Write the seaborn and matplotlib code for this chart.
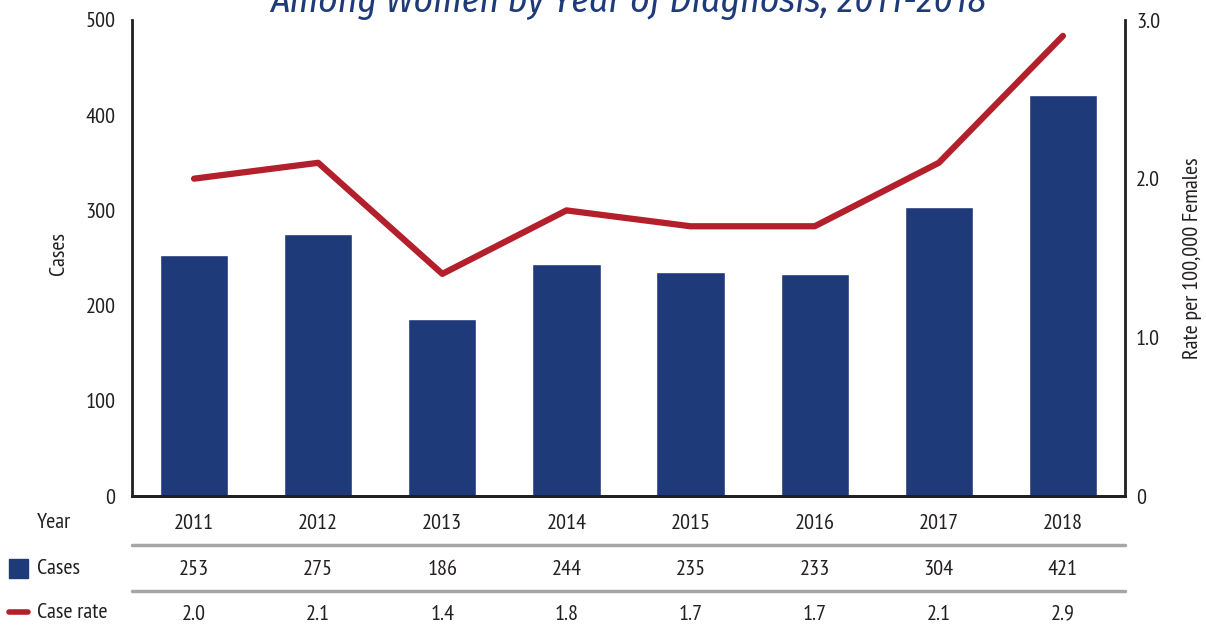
import matplotlib
matplotlib.use('Agg')
import matplotlib.pyplot as plt
import pandas as pd
import seaborn as sns
from matplotlib import font_manager
from matplotlib.patches import Rectangle
from matplotlib.lines import Line2D

# Data
years = ['2011', '2012', '2013', '2014', '2015', '2016', '2017', '2018']
cases = [253, 275, 186, 244, 235, 233, 304, 421]
case_rate = [2.0, 2.1, 1.4, 1.8, 1.7, 1.7, 2.1, 2.9]
case_rate_labels = ['2.0', '2.1', '1.4', '1.8', '1.7', '1.7', '2.1', '2.9']
left_ticks = [0, 100, 200, 300, 400, 500]
right_ticks = [0, 1.0, 2.0, 3.0]
right_tick_labels = ['0', '1.0', '2.0', '3.0']

df = pd.DataFrame({'year': years, 'cases': cases, 'rate': case_rate})

BLUE = '#1f3a78'
RED = '#b31f2a'
GRAY = '#a6a6a6'
TXT = '#231f20'

sns.set_style('white')

# pick a condensed humanist face (original looks like Myriad Condensed)
fonts = font_manager.fontManager.ttflist
names = {f.name for f in fonts}
italic_names = {f.name for f in fonts if f.style == 'italic'}
prefs = ['PT Sans Narrow', 'Fira Sans Condensed', 'Open Sans Condensed',
         'Roboto Condensed', 'Asap Condensed', 'Archivo Narrow', 'Barlow Condensed']
body = next((n for n in prefs if n in names), 'DejaVu Sans')
title_font = next((n for n in prefs if n in italic_names), body)
plt.rcParams['font.family'] = [body, 'DejaVu Sans']

FS = 16

fig = plt.figure(figsize=(12.06, 6.25), dpi=100)
ax = fig.add_axes([132 / 1206, 1 - 496 / 625, (1125 - 132) / 1206, (496 - 20) / 625])

sns.barplot(data=df, x='year', y='cases', color=BLUE, width=0.55,
            saturation=1, ax=ax)
ax.set_xlim(-0.5, 7.5)
ax.set_ylim(0, 500)
ax.set_yticks(left_ticks)
ax.tick_params(axis='y', length=0, labelsize=FS, colors=TXT, pad=12)
ax.set_xticks([])
ax.set_xlabel('')
ax.set_ylabel('Cases', fontsize=FS, color=TXT)
ax.yaxis.set_label_coords(-0.064, 0.51)

ax2 = ax.twinx()
sns.lineplot(x=range(len(years)), y=case_rate, color=RED, linewidth=4.5,
             ax=ax2)
ax2.set_ylim(0, 3.0)
ax2.set_yticks(right_ticks)
ax2.set_yticklabels(right_tick_labels)
ax2.tick_params(axis='y', length=0, labelsize=FS, colors=TXT, pad=8)
ax2.set_ylabel('Rate per 100,000 Females', fontsize=FS, color=TXT)
ax2.yaxis.set_label_coords(1.058, 0.5)

for a in (ax, ax2):
    for side in ['left', 'right', 'bottom']:
        a.spines[side].set_visible(True)
        a.spines[side].set_color(TXT)
        a.spines[side].set_linewidth(2)
    a.spines['top'].set_visible(False)
ax2.spines['left'].set_visible(False)
ax.spines['right'].set_visible(False)

# Data table under the chart
trans = ax.get_xaxis_transform()
row_y = [-0.057, -0.155, -0.248]
for i in range(len(years)):
    ax.text(i, row_y[0], years[i], transform=trans, ha='center', va='center',
            fontsize=FS, color=TXT, clip_on=False)
    ax.text(i, row_y[1], str(cases[i]), transform=trans, ha='center', va='center',
            fontsize=FS, color=TXT, clip_on=False)
    ax.text(i, row_y[2], case_rate_labels[i], transform=trans, ha='center',
            va='center', fontsize=FS, color=TXT, clip_on=False)

for yy in [-0.102, -0.2]:
    ax.add_line(Line2D([0, 1], [yy, yy], transform=ax.transAxes, color=GRAY,
                       linewidth=2.5, clip_on=False))

lx = 37 / 1206
fig.text(lx, 1 - 522 / 625, 'Year', fontsize=FS, color=TXT, va='center')
fig.text(lx, 1 - 569 / 625, 'Cases', fontsize=FS, color=TXT, va='center')
fig.text(lx, 1 - 612 / 625, 'Case rate', fontsize=FS, color=TXT, va='center')
fig.patches.append(Rectangle((9 / 1206, 1 - 578 / 625), 19 / 1206, 19 / 625,
                             transform=fig.transFigure, color=BLUE))
fig.lines.append(Line2D([9 / 1206, 28 / 1206], [1 - 612 / 625, 1 - 612 / 625],
                        transform=fig.transFigure, color=RED, linewidth=4))

fig.text(628 / 1206, 1 - 12 / 625, 'Among Women by Year of Diagnosis, 2011-2018',
         ha='center', va='baseline', fontsize=27, style='italic', color=BLUE,
         family=[title_font, 'DejaVu Sans'])

fig.savefig('out.png', dpi=100)
